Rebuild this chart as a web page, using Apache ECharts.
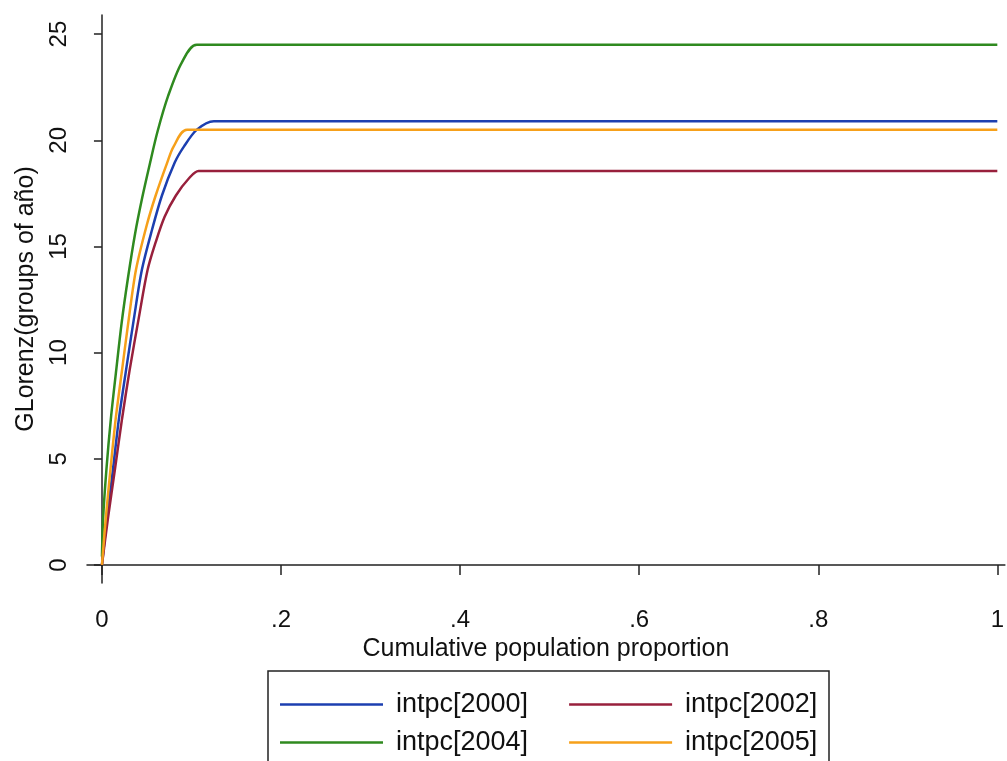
<!DOCTYPE html>
<html lang="en">
<head>
    <meta charset="UTF-8">
    <title>GLorenz</title>
    <script src="https://cdn.jsdelivr.net/npm/echarts@6/dist/echarts.min.js"></script>
    <style>
        body { margin: 0; padding: 0; background: #fff; }
        #chart { width: 1007px; height: 761px; }
    </style>
</head>
<body>
<div id="chart"></div>
<script>
    // values
    var names = ['intpc[2000]', 'intpc[2002]', 'intpc[2004]', 'intpc[2005]'];
    var x2000 = [0, 0.0056, 0.0123, 0.019, 0.027, 0.0357, 0.0446, 0.056, 0.067, 0.0814, 0.0915, 0.106, 0.125, 1];
    var y2000 = [0, 2.2, 4.5, 6.9, 9.2, 11.6, 13.9, 15.8, 17.4, 18.96, 19.7, 20.5, 20.9, 20.9];
    var x2002 = [0, 0.0067, 0.0145, 0.0225, 0.031, 0.041, 0.051, 0.060, 0.070, 0.0826, 0.097, 0.108, 1];
    var y2002 = [0, 2.2, 4.5, 6.9, 9.2, 11.6, 13.9, 15.2, 16.4, 17.4, 18.2, 18.55, 18.55];
    var x2004 = [0, 0.0013, 0.005, 0.010, 0.016, 0.022, 0.029, 0.037, 0.045, 0.053, 0.062, 0.074, 0.089, 0.106, 1];
    var y2004 = [0.4, 2.2, 4.5, 6.9, 9.2, 11.4, 13.5, 15.6, 17.3, 18.8, 20.4, 22.1, 23.65, 24.5, 24.5];
    var x2005 = [0, 0.0043, 0.0095, 0.0154, 0.0225, 0.030, 0.038, 0.050, 0.060, 0.073, 0.080, 0.095, 1];
    var y2005 = [0, 2.2, 4.5, 6.9, 9.2, 11.6, 13.9, 16.0, 17.4, 18.96, 19.7, 20.5, 20.5];
    var xTicks = [0, 0.2, 0.4, 0.6, 0.8, 1];
    var xTickLabels = ['0', '.2', '.4', '.6', '.8', '1'];
    var yTicks = [0, 5, 10, 15, 20, 25];

    var colors = ['#1c3fb0', '#98203c', '#2f8a1f', '#f6a01a'];

    function pairs(xs, ys) {
        return xs.map(function (x, i) { return [x, ys[i]]; });
    }
    var allData = [pairs(x2000, y2000), pairs(x2002, y2002), pairs(x2004, y2004), pairs(x2005, y2005)];

    var chart = echarts.init(document.getElementById('chart'));
    var font = "'Liberation Sans', Arial, sans-serif";

    function legendRow(items, top) {
        return {
            data: items.map(function (n) { return { name: n, icon: 'rect' }; }),
            left: 280, top: top, padding: 0,
            itemWidth: 103, itemHeight: 2.5, itemGap: 41,
            textStyle: { fontSize: 27, color: '#111', fontFamily: font, padding: [0, 0, 0, 8] }
        };
    }

    var option = {
        backgroundColor: '#ffffff',
        animation: false,
        grid: { left: 87, top: 15, right: 0, bottom: 178, containLabel: false },
        xAxis: {
            type: 'value',
            min: -0.0167,
            max: 1.0084,
            name: 'Cumulative population proportion',
            nameLocation: 'middle',
            nameGap: 52,
            nameTextStyle: { fontSize: 25, color: '#111', fontFamily: font },
            axisLine: { lineStyle: { color: '#222', width: 1.5 } },
            axisTick: { show: true, customValues: xTicks, length: 10, lineStyle: { color: '#222', width: 1.5 } },
            axisLabel: {
                customValues: xTicks, margin: 25, fontSize: 24, color: '#111', fontFamily: font,
                formatter: function (v) {
                    var i = xTicks.indexOf(v);
                    return i >= 0 ? xTickLabels[i] : '';
                }
            },
            splitLine: { show: false }
        },
        yAxis: {
            type: 'value',
            min: -0.85,
            max: 25.9,
            name: 'GLorenz(groups of año)',
            nameLocation: 'middle',
            nameGap: 40,
            nameTextStyle: { fontSize: 25, color: '#111', fontFamily: font },
            axisLine: { show: true, lineStyle: { color: '#222', width: 1.5 } },
            axisTick: { show: true, customValues: yTicks, length: 8, lineStyle: { color: '#222', width: 1.5 } },
            axisLabel: { customValues: yTicks, rotate: 90, margin: 16, fontSize: 24, color: '#111', fontFamily: font },
            splitLine: { show: false }
        },
        legend: [legendRow([names[0], names[1]], 691), legendRow([names[2], names[3]], 729)],
        graphic: [{
            type: 'rect',
            shape: { x: 268, y: 671, width: 561, height: 100 },
            style: { fill: 'none', stroke: '#222', lineWidth: 1.5 }
        }],
        series: names.map(function (n, i) {
            return {
                name: n,
                type: 'line',
                data: allData[i],
                symbol: 'none',
                smooth: 0.3,
                lineStyle: { color: colors[i], width: 2.5 },
                itemStyle: { color: colors[i] }
            };
        })
    };

    chart.setOption(option);
</script>
</body>
</html>
